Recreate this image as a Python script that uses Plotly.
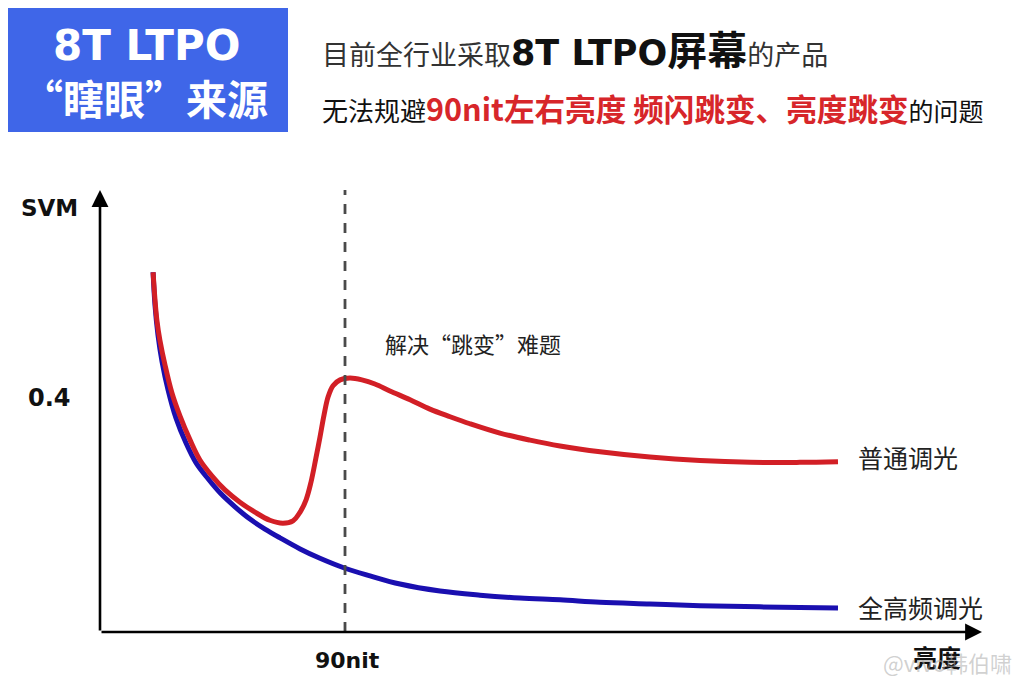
import plotly.graph_objects as go

# ---- data (x: brightness in nit, y: SVM) ----
red_x = [19.5, 20.2, 20.9, 22.0, 23.9, 26.4, 29.4, 33.1, 36.7, 41.1, 45.9, 51.4, 56.9, 62.4, 67.2, 70.9,
         73.5, 75.7, 77.5, 79.3, 80.8, 82.3, 83.8, 85.6, 88.2, 91.8, 96.2, 101.0, 106.5, 113.9, 121.2, 128.6,
         135.9, 146.9, 158.0, 169.0, 183.7, 202.0, 220.4, 238.8, 257.1, 271.1]
red_y = [0.615, 0.568, 0.533, 0.499, 0.456, 0.409, 0.369, 0.328, 0.294, 0.267, 0.243, 0.222, 0.205, 0.191,
         0.186, 0.190, 0.205, 0.226, 0.256, 0.297, 0.333, 0.371, 0.402, 0.421, 0.431, 0.434, 0.431, 0.424,
         0.412, 0.397, 0.381, 0.368, 0.356, 0.340, 0.328, 0.318, 0.308, 0.299, 0.293, 0.290, 0.290, 0.291]

blue_x = [19.5, 20.2, 21.3, 22.8, 25.0, 27.9, 31.6, 35.3, 39.7, 44.1, 49.6, 55.1, 60.6, 66.1, 73.5, 80.8,
          90.0, 99.2, 110.2, 124.9, 139.6, 154.3, 169.0, 183.7, 202.0, 220.4, 242.4, 271.1]
blue_y = [0.615, 0.559, 0.508, 0.462, 0.414, 0.366, 0.323, 0.289, 0.262, 0.238, 0.214, 0.193, 0.176, 0.161,
          0.142, 0.126, 0.109, 0.096, 0.082, 0.070, 0.063, 0.058, 0.055, 0.051, 0.048, 0.045, 0.043, 0.041]

marker_nit = 90
tick_svm = 0.4
x_max = 324
y_max = 0.7556

series_names = ["普通调光", "全高频调光"]

FONT = "Noto Sans CJK SC"
LAT = "DejaVu Sans"
RED = "#d21f26"
BLUE = "#1a0fb0"

# page body has an 8px margin: figure is drawn 8px in from the window corner
OFF = 8
W, H = 1024 - 2 * OFF, 690 - 2 * OFF
# plot area in window pixels: left 100, right 982, top 190, bottom 632
L, R, T, B = 100 - OFF, 982 - OFF, 190 - OFF, 632 - OFF


def px(x):
    return (x - OFF - L) / (R - L)


def py(y):
    return (B - (y - OFF)) / (B - T)


fig = go.Figure()
fig.add_trace(go.Scatter(x=blue_x, y=blue_y, mode="lines", name=series_names[1],
                         line=dict(color=BLUE, width=5, shape="spline", smoothing=1.0),
                         hoverinfo="skip"))
fig.add_trace(go.Scatter(x=red_x, y=red_y, mode="lines", name=series_names[0],
                         line=dict(color=RED, width=5, shape="spline", smoothing=1.0),
                         hoverinfo="skip"))

shapes = [
    # blue title box
    dict(type="rect", xref="paper", yref="paper", x0=px(8), x1=px(288), y0=py(132), y1=py(8),
         fillcolor="#3f66e8", line=dict(width=0), layer="below"),
    # dashed 90nit line
    dict(type="line", xref="x", yref="y", x0=marker_nit, x1=marker_nit, y0=0, y1=y_max,
         line=dict(color="#4a4a4a", width=2.8, dash="10px,9px")),
]

ann = []
# axis arrows
ann.append(dict(x=0, y=y_max, ax=0, ay=0, xref="x", yref="y", axref="x", ayref="y", text="",
                showarrow=True, arrowhead=2, arrowsize=1.3, arrowwidth=2.6, arrowcolor="#000", standoff=0))
ann.append(dict(x=x_max, y=0, ax=0, ay=0, xref="x", yref="y", axref="x", ayref="y", text="",
                showarrow=True, arrowhead=2, arrowsize=1.3, arrowwidth=2.6, arrowcolor="#000", standoff=0))


def txt(x, y, text, size, color="#111", xanchor="center", bold=False, family=FONT):
    ann.append(dict(x=px(x), y=py(y), xref="paper", yref="paper", text=f"<b>{text}</b>" if bold else text,
                    showarrow=False, xanchor=xanchor, yanchor="middle",
                    font=dict(family=family, size=size, color=color)))


# title box texts
txt(146, 45, "8T LTPO", 42, "#ffffff", bold=True, family=LAT)
txt(145, 97, "“瞎眼”来源", 41, "#ffffff", bold=True)

# headline lines
txt(320, 48,
    "<span style='color:#333'>目前全行业采取</span>"
    f"<b style='font-family:{LAT};font-size:35px;color:#111'>8T LTPO</b>"
    "<b style='font-size:40px;color:#111'>屏幕</b>"
    "<span style='color:#333'>的产品</span>", 27, "#333", xanchor="left")
txt(320, 108, "无法规避<b style='color:#d7262a;font-size:30.6px'>90nit左右亮度 频闪跳变、亮度跳变</b>"
              "<span style='font-size:25px'>的问题</span>",
    26, "#111", xanchor="left")

# axis labels
txt(49, 208, "SVM", 23, "#111", bold=True, family=LAT)
txt(49, 398, str(tick_svm), 24, "#111", bold=True, family=LAT)
txt(347, 660, f"{marker_nit}nit", 22, "#111", bold=True, family=LAT)
txt(937, 656, "亮度", 24, "#111", bold=True)
# watermark
txt(1014, 662, "@vivo韩伯啸", 22, "rgba(170,170,170,0.55)", xanchor="right")

# annotations in chart
txt(383, 343, "解决“跳变”难题", 22, "#222", xanchor="left")
txt(856, 457, series_names[0], 25, "#222", xanchor="left")
txt(856, 607, series_names[1], 25, "#222", xanchor="left")

fig.update_layout(
    width=W, height=H,
    margin=dict(l=L, r=W - R, t=T, b=H - B, pad=0),
    paper_bgcolor="white", plot_bgcolor="white",
    showlegend=False,
    shapes=shapes,
    annotations=ann,
    xaxis=dict(range=[0, x_max], showgrid=False, zeroline=False, showticklabels=False, showline=False,
               ticks="", fixedrange=True),
    yaxis=dict(range=[0, y_max], showgrid=False, zeroline=False, showticklabels=False, showline=False,
               ticks="", fixedrange=True),
    font=dict(family=FONT),
)

fig.write_html("out.html", config={"displayModeBar": False})
